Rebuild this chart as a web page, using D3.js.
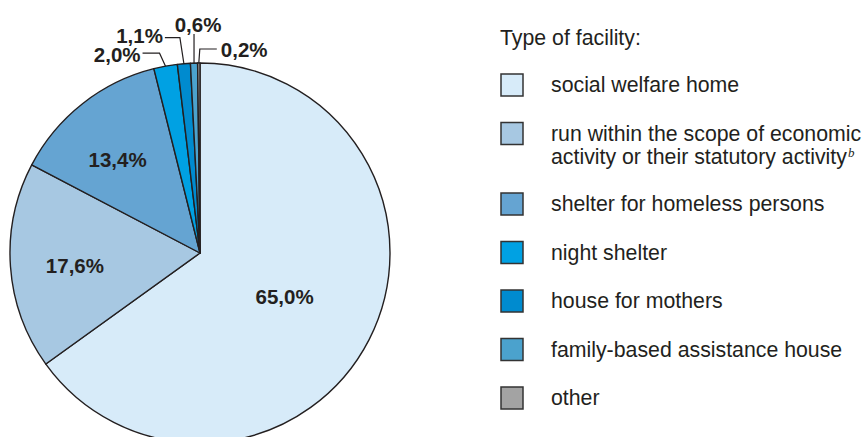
<!DOCTYPE html>
<html>
<head>
<meta charset="utf-8">
<script src="https://cdn.jsdelivr.net/npm/d3@7"></script>
<style>
  body { margin: 0; background: #fff; }
  svg { display: block; font-family: "Liberation Sans", Arial, sans-serif; }
</style>
</head>
<body>
<div class="svg-container"></div>
<script>
// data
const categories = [
  'social welfare home',
  'run within the scope of economic|activity or their statutory activity',
  'shelter for homeless persons',
  'night shelter',
  'house for mothers',
  'family-based assistance house',
  'other'
];
const values = [65.0, 17.6, 13.4, 2.0, 1.1, 0.6, 0.2];
const labels = ['65,0%', '17,6%', '13,4%', '2,0%', '1,1%', '0,6%', '0,2%'];
const colors = ['#d7ebf9', '#a7c8e2', '#65a4d2', '#00a1e3', '#008bcf', '#4ba2cd', '#a3a3a3'];

const width = 864;
const height = 437;
const cx = 200, cy = 253, r = 190;

const svg = d3.select('.svg-container')
  .append('svg')
  .attr('width', width)
  .attr('height', height);

const pie = d3.pie().sort(null).value(d => d);
const arcs = pie(values);
const arc = d3.arc().innerRadius(0).outerRadius(r);

const g = svg.append('g').attr('transform', `translate(${cx},${cy})`);

g.selectAll('path.slice')
  .data(arcs)
  .enter().append('path')
  .attr('class', 'slice')
  .attr('d', arc)
  .attr('fill', (d, i) => colors[i])
  .attr('stroke', '#231f20')
  .attr('stroke-width', 1.4)
  .attr('stroke-linejoin', 'round');

// big slices: label inside, radius factor + small nudge per slice
const inside = [
  { f: 0.5, nx: 0, ny: 0 },
  { f: 0.66, nx: 0, ny: 4 },
  { f: 0.65, nx: -6, ny: 4 }
];
arcs.slice(0, 3).forEach((d, i) => {
  const a = (d.startAngle + d.endAngle) / 2;
  const rr = r * inside[i].f;
  g.append('text')
    .attr('x', rr * Math.sin(a) + inside[i].nx)
    .attr('y', -rr * Math.cos(a) + 7.5 + inside[i].ny)
    .attr('text-anchor', 'middle')
    .attr('font-size', 20.5)
    .attr('font-weight', 'bold')
    .attr('fill', '#231f20')
    .text(labels[i]);
});

// small slices: leader lines (elbow offset from the rim point, then a horizontal run)
const leaders = [
  { dx: -6, dy: -13, h: -17, ty: 9 },
  { dx: -4, dy: -26, h: -15, ty: 5.5 },
  { dx: 0, dy: -29, h: 0, ty: -2 },
  { dx: 1, dy: -14, h: 17, ty: 8 }
];
arcs.slice(3).forEach((d, j) => {
  const i = j + 3;
  const a = (d.startAngle + d.endAngle) / 2;
  const px = r * Math.sin(a), py = -r * Math.cos(a);
  const L = leaders[j];
  const ex = px + L.dx, ey = py + L.dy;
  const hx = ex + L.h;
  g.append('path')
    .attr('d', `M${px},${py}L${ex},${ey}L${hx},${ey}`)
    .attr('fill', 'none')
    .attr('stroke', '#231f20')
    .attr('stroke-width', 1.2);
  const t = g.append('text')
    .attr('y', ey + L.ty)
    .attr('font-size', 20.5)
    .attr('font-weight', 'bold')
    .attr('fill', '#231f20')
    .text(labels[i]);
  if (L.h < 0) {
    t.attr('x', hx - 2).attr('text-anchor', 'end');
  } else if (L.h > 0) {
    t.attr('x', hx + 4).attr('text-anchor', 'start');
  } else {
    t.attr('x', ex + 4).attr('text-anchor', 'middle');
  }
});

// legend
const legend = svg.append('g');
legend.append('text')
  .attr('x', 500)
  .attr('y', 45)
  .attr('font-size', 21.3)
  .attr('fill', '#231f20')
  .text('Type of facility:');

let baseY = 92;
categories.forEach((c, i) => {
  const lines = c.split('|');
  legend.append('rect')
    .attr('x', 501)
    .attr('y', baseY - 18)
    .attr('width', 22)
    .attr('height', 22)
    .attr('fill', colors[i])
    .attr('stroke', '#333')
    .attr('stroke-width', 1.5);
  lines.forEach((ln, k) => {
    const t = legend.append('text')
      .attr('x', 551)
      .attr('y', baseY + k * 23)
      .attr('font-size', 21.3)
      .attr('fill', '#231f20')
      .text(ln);
    if (i === 1 && k === 1) {
      t.append('tspan')
        .attr('dy', -7)
        .attr('dx', 1)
        .attr('font-family', '"Liberation Serif", serif')
        .attr('font-style', 'italic')
        .attr('font-size', 13)
        .text('b');
    }
  });
  baseY += 48.5 + (lines.length - 1) * 22;
});
</script>
</body>
</html>
